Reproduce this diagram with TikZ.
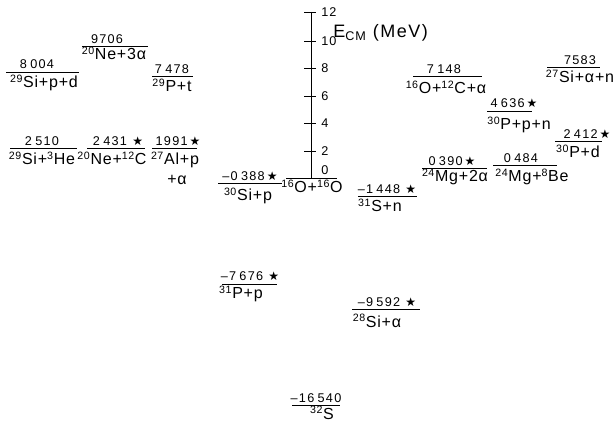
\documentclass[tikz,border=0pt]{standalone}
\usepackage{fontspec}
\setmainfont{Liberation Sans}
\newfontfamily\symf{DejaVu Sans}
\newcommand\st{\kern1.5pt{\symf\fontsize{9}{9}\selectfont ★}}
\newcommand\gp{\kern2.5pt}
\newcommand\sps[1]{\textsuperscript{#1}}
\begin{document}
\begin{tikzpicture}[x=0.75pt,y=-0.75pt,
  lvl/.style={line width=0.6pt},
  num/.style={inner sep=0pt,anchor=base,font=\fontsize{9.5}{10}\selectfont\addfontfeature{LetterSpace=10}},
  rxn/.style={inner sep=0pt,anchor=base,font=\fontsize{12}{13}\selectfont\addfontfeature{LetterSpace=5}},
  tl/.style={inner sep=0pt,anchor=west,font=\fontsize{9.5}{10}\selectfont\addfontfeature{LetterSpace=8}}]
\useasboundingbox (0,0) rectangle (616,423);
\fill[white] (0,0) rectangle (616,423);
% axis
\coordinate (axt) at (311,12);
\coordinate (axb) at (311,178.5);
\draw[lvl] (axt) -- (axb);
\foreach \v/\yy in {12/12,10/41,8/68,6/96,4/123,2/151}{
  \coordinate (tka\v) at (304,\yy);
  \coordinate (tkb\v) at (316,\yy);
  \draw[lvl] (tka\v) -- (tkb\v);
  \node[tl] (tl\v) at (321,\yy) {\v};
}
\node[tl,anchor=base west] (tl0) at (321,175) {0};
\node[inner sep=0pt,anchor=west,font=\fontsize{13.5}{14}\selectfont\addfontfeature{LetterSpace=8}] (ecm) at (333,33) {E\textsubscript{CM} (MeV)};
% 0 level
\coordinate (z1) at (286,178.5); \coordinate (z2) at (337,178.5);
\draw[lvl] (z1) -- (z2);
\node[rxn] (rz) at (312,193) {\sps{16}O+\sps{16}O};
% 8004
\coordinate (a1) at (6,72); \coordinate (a2) at (79,72);
\draw[lvl] (a1) -- (a2);
\node[num] (na) at (37,69) {8\gp 004};
\node[rxn] (ra) at (44,88) {\sps{29}Si+p+d};
% 9706
\coordinate (b1) at (82,46.5); \coordinate (b2) at (148,46.5);
\draw[lvl] (b1) -- (b2);
\node[num] (nb) at (107,44) {9706};
\node[rxn] (rb) at (114,60) {\sps{20}Ne+3α};
% 7478
\coordinate (c1) at (152,76); \coordinate (c2) at (193,76);
\draw[lvl] (c1) -- (c2);
\node[num] (nc) at (172,73.5) {7\gp 478};
\node[rxn] (rc) at (172,92) {\sps{29}P+t};
% 2510
\coordinate (d1) at (10,148); \coordinate (d2) at (77,148);
\draw[lvl] (d1) -- (d2);
\node[num] (nd) at (42,145.5) {2\gp 510};
\node[rxn] (rd) at (42,165) {\sps{29}Si+\sps{3}He};
% 2431
\coordinate (e1) at (87,148); \coordinate (e2) at (145,148);
\draw[lvl] (e1) -- (e2);
\node[num] (ne) at (118,145.5) {2\gp 431\gp\st};
\node[rxn] (re) at (112,165) {\sps{20}Ne+\sps{12}C};
% 1991
\coordinate (f1) at (152,148); \coordinate (f2) at (197,148);
\draw[lvl] (f1) -- (f2);
\node[num] (nf) at (178,145.5) {1991\st};
\node[rxn] (rf) at (175,165) {\sps{27}Al+p};
\node[rxn] (rf2) at (177,185) {+α};
% -0388
\coordinate (g1) at (218,183.5); \coordinate (g2) at (282,183.5);
\draw[lvl] (g1) -- (g2);
\node[num] (ng) at (250,181) {–0\gp 388\st};
\node[rxn] (rg) at (248,201) {\sps{30}Si+p};
% 7148
\coordinate (h1) at (413,76.5); \coordinate (h2) at (482,76.5);
\draw[lvl] (h1) -- (h2);
\node[num] (nh) at (444,74) {7\gp 148};
\node[rxn] (rh) at (446,94) {\sps{16}O+\sps{12}C+α};
% 7583
\coordinate (i1) at (547,67); \coordinate (i2) at (600,67);
\draw[lvl] (i1) -- (i2);
\node[num] (ni) at (580,64.5) {7583};
\node[rxn] (ri) at (580,83) {\sps{27}Si+α+n};
% 4636
\coordinate (j1) at (487,111.5); \coordinate (j2) at (532,111.5);
\draw[lvl] (j1) -- (j2);
\node[num] (nj) at (514,108) {4\gp 636\st};
\node[rxn] (rj) at (519,130) {\sps{30}P+p+n};
% 2412
\coordinate (k1) at (555,141.5); \coordinate (k2) at (602,141.5);
\draw[lvl] (k1) -- (k2);
\node[num] (nk) at (587,138.5) {2\gp 412\st};
\node[rxn] (rk) at (578,158) {\sps{30}P+d};
% 0390
\coordinate (l1) at (422,168.5); \coordinate (l2) at (487,168.5);
\draw[lvl] (l1) -- (l2);
\node[num] (nl) at (452,165.5) {0\gp 390\st};
\node[rxn] (rl) at (455,182) {\sps{24}Mg+2α};
% 0484
\coordinate (m1) at (493,165); \coordinate (m2) at (557,165);
\draw[lvl] (m1) -- (m2);
\node[num] (nm) at (521,162.5) {0\gp 484};
\node[rxn] (rm) at (532,182) {\sps{24}Mg+\sps{8}Be};
% -1448
\coordinate (o1) at (358,196.5); \coordinate (o2) at (417,196.5);
\draw[lvl] (o1) -- (o2);
\node[num] (no) at (387,193.5) {–1\gp 448\gp\st};
\node[rxn] (ro) at (380,212) {\sps{31}S+n};
% -7676
\coordinate (p1) at (222,284); \coordinate (p2) at (277,284);
\draw[lvl] (p1) -- (p2);
\node[num] (np) at (250,281) {–7\gp 676\gp\st};
\node[rxn] (rp) at (241,299) {\sps{31}P+p};
% -9592
\coordinate (q1) at (352,309); \coordinate (q2) at (420,309);
\draw[lvl] (q1) -- (q2);
\node[num] (nq) at (387,306.5) {–9\gp 592\gp\st};
\node[rxn] (rq) at (377,327) {\sps{28}Si+α};
% -16540
\coordinate (s1) at (292,405); \coordinate (s2) at (340,405);
\draw[lvl] (s1) -- (s2);
\node[num] (ns) at (316,402) {–16\gp 540};
\node[rxn] (rs) at (322,419.5) {\sps{32}S};
\end{tikzpicture}
\end{document}
